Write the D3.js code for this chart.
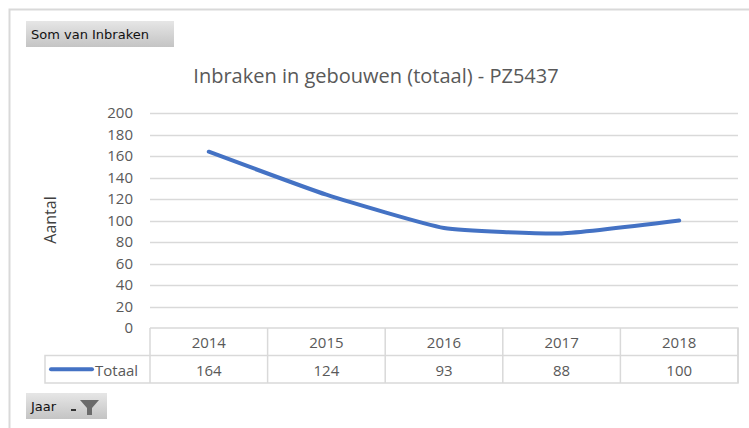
<!doctype html>
<html>
<head>
<meta charset="utf-8">
<title>Inbraken in gebouwen</title>
<script src="https://d3js.org/d3.v7.min.js"></script>
<style>
  body { margin: 0; background: #fff; }
  svg { display: block; font-family: "Open Sans", "Liberation Sans", sans-serif; }
</style>
</head>
<body>
<div id="vis"></div>
<script>
var years = ['2014', '2015', '2016', '2017', '2018'];
var totaal = [164, 124, 93, 88, 100];
var yTicks = [0, 20, 40, 60, 80, 100, 120, 140, 160, 180, 200];

var width = 749, height = 428;
var plotLeft = 150, plotRight = 738, plotTop = 113, plotBottom = 328;
var rowH = 27.5;

var svg = d3.select('#vis').append('svg')
  .attr('width', width)
  .attr('height', height);

var defs = svg.append('defs');
var grad = defs.append('linearGradient').attr('id', 'btn').attr('x1', 0).attr('y1', 0).attr('x2', 0).attr('y2', 1);
grad.append('stop').attr('offset', '0%').attr('stop-color', '#e6e6e6');
grad.append('stop').attr('offset', '100%').attr('stop-color', '#c4c4c4');

// outer frame
svg.append('path')
  .attr('d', 'M9.5,' + height + 'V9.5H' + width)
  .attr('fill', 'none')
  .attr('stroke', '#d9d9d9')
  .attr('stroke-width', 2);

// field buttons
function button(bx, by, w, label) {
  svg.append('rect').attr('x', bx).attr('y', by).attr('width', w).attr('height', 26)
    .attr('fill', 'url(#btn)');
  svg.append('text').attr('x', bx + 5).attr('y', by + 18)
    .attr('font-family', '"DejaVu Sans", sans-serif')
    .attr('font-size', 13).attr('fill', '#111')
    .text(label);
}
button(26, 21, 148, 'Som van Inbraken');
button(26, 393, 81, 'Jaar');
// filter icon
svg.append('rect').attr('x', 71).attr('y', 409).attr('width', 5).attr('height', 2).attr('fill', '#333');
svg.append('path').attr('d', 'M80,400H99L92,408V415H87V408Z').attr('fill', '#6b6b6b');

var x = d3.scaleBand().domain(years).range([plotLeft, plotRight]);
var y = d3.scaleLinear().domain([0, 200]).range([plotBottom, plotTop]);

// title
svg.append('text')
  .attr('x', 376).attr('y', 83)
  .attr('text-anchor', 'middle')
  .attr('font-size', 20).attr('fill', '#595959')
  .text('Inbraken in gebouwen (totaal) - PZ5437');

// gridlines
svg.append('g').selectAll('line').data(yTicks.filter(function(d){ return d > 0; }))
  .enter().append('line')
  .attr('x1', plotLeft).attr('x2', plotRight)
  .attr('y1', function(d){ return Math.round(y(d)) + 0.5; })
  .attr('y2', function(d){ return Math.round(y(d)) + 0.5; })
  .attr('stroke', '#d9d9d9').attr('stroke-width', 1.5);

// y axis labels
var yAxis = svg.append('g')
  .attr('transform', 'translate(' + (plotLeft - 17) + ',0)')
  .call(d3.axisLeft(y).tickValues(yTicks).tickSize(0).tickPadding(0));
yAxis.select('.domain').remove();
yAxis.selectAll('text')
  .attr('font-family', '"Open Sans", sans-serif')
  .attr('font-size', 15).attr('fill', '#595959');

svg.append('text')
  .attr('transform', 'translate(56,220) rotate(-90)')
  .attr('text-anchor', 'middle')
  .attr('font-size', 16).attr('fill', '#404040')
  .text('Aantal');

// data table
var table = svg.append('g').attr('fill', 'none').attr('stroke', '#d9d9d9').attr('stroke-width', 1.5);
table.append('path')
  .attr('d', 'M' + plotLeft + ',' + plotBottom + 'H' + plotRight + 'V' + (plotBottom + 2 * rowH) +
    'H45V' + (plotBottom + rowH) + 'H' + plotRight);
table.selectAll('line').data(years.concat(['end'])).enter().append('line')
  .attr('x1', function(d, i){ return plotLeft + i * x.bandwidth(); })
  .attr('x2', function(d, i){ return plotLeft + i * x.bandwidth(); })
  .attr('y1', plotBottom).attr('y2', plotBottom + 2 * rowH);

svg.append('g').selectAll('text').data(years).enter().append('text')
  .attr('x', function(d){ return x(d) + x.bandwidth() / 2; })
  .attr('y', plotBottom + 20)
  .attr('text-anchor', 'middle')
  .attr('font-size', 15).attr('fill', '#595959')
  .text(function(d){ return d; });

svg.append('g').selectAll('text').data(totaal).enter().append('text')
  .attr('x', function(d, i){ return x(years[i]) + x.bandwidth() / 2; })
  .attr('y', plotBottom + rowH + 20)
  .attr('text-anchor', 'middle')
  .attr('font-size', 15).attr('fill', '#595959')
  .text(function(d){ return d; });

svg.append('line')
  .attr('x1', 51).attr('x2', 92)
  .attr('y1', plotBottom + rowH * 1.5).attr('y2', plotBottom + rowH * 1.5)
  .attr('stroke', '#4472c4').attr('stroke-width', 4).attr('stroke-linecap', 'round');
svg.append('text')
  .attr('x', 95).attr('y', plotBottom + rowH + 20)
  .attr('font-size', 15).attr('fill', '#595959')
  .text('Totaal');

// series line
var line = d3.line()
  .x(function(d, i){ return x(years[i]) + x.bandwidth() / 2; })
  .y(function(d){ return y(d); })
  .curve(d3.curveCardinal.tension(0.55));

svg.append('path')
  .datum(totaal)
  .attr('d', line)
  .attr('fill', 'none')
  .attr('stroke', '#4472c4')
  .attr('stroke-width', 4)
  .attr('stroke-linecap', 'round');
</script>
</body>
</html>
